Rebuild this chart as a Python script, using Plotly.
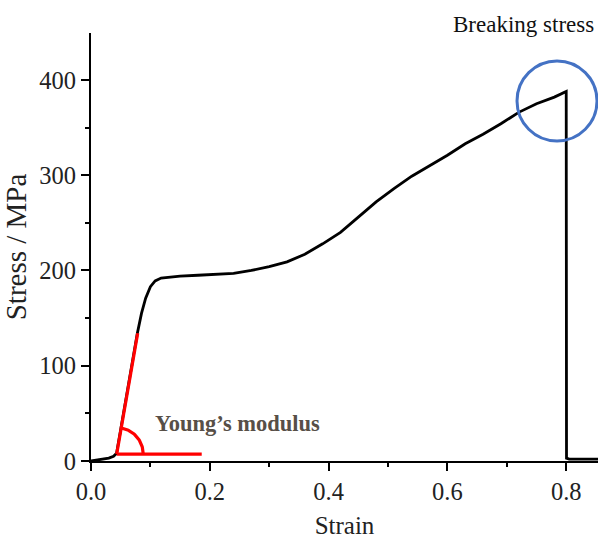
import numpy as np
import plotly.graph_objects as go

# Stress-strain curve
strain = [0.0, 0.01, 0.02, 0.03, 0.038, 0.043, 0.05, 0.06, 0.07, 0.078, 0.085, 0.092,
          0.1, 0.108, 0.118, 0.13, 0.15, 0.18, 0.21, 0.24, 0.27, 0.3, 0.33, 0.36, 0.39,
          0.42, 0.45, 0.48, 0.51, 0.54, 0.57, 0.6, 0.63, 0.66, 0.69, 0.72, 0.75, 0.78,
          0.8, 0.8005, 0.805, 0.83, 0.854]
stress = [0, 1, 2, 3, 5, 8, 33, 70, 105, 134, 155, 171,
          183, 189, 192, 193, 194, 195, 196, 197, 200, 204, 209, 217, 228,
          240, 256, 272, 286, 299, 310, 321, 333, 343, 354, 366, 375, 382,
          388, 3, 2, 2, 2]

# Young's modulus construction lines
tangent_x = [0.0433, 0.0786]
tangent_y = [7.3, 134]
base_x = [0.0433, 0.1864]
base_y = [7.3, 7.3]

# Breaking stress marker (circle)
circle_center = (0.7845, 378)

x_tickvals = [0.0, 0.2, 0.4, 0.6, 0.8]
x_ticktext = ["0.0", "0.2", "0.4", "0.6", "0.8"]
y_tickvals = [0, 100, 200, 300, 400]

XR = [0, 0.8535]
YR = [0, 449.3]
PX_PER_X = 594.0
PX_PER_Y = 0.9525

SERIF = "Liberation Serif"

fig = go.Figure()
fig.add_trace(go.Scatter(x=strain, y=stress, mode="lines",
                         line=dict(color="black", width=2.8), showlegend=False,
                         hoverinfo="skip", cliponaxis=False))
fig.add_trace(go.Scatter(x=tangent_x, y=tangent_y, mode="lines",
                         line=dict(color="#ff0000", width=3.2), showlegend=False))
fig.add_trace(go.Scatter(x=base_x, y=base_y, mode="lines",
                         line=dict(color="#ff0000", width=3.2), showlegend=False))

# arc (angle marker) of ~26 px radius
r_px = 26.5
th = np.linspace(0, np.deg2rad(80), 40)
arc_x = tangent_x[0] + r_px * np.cos(th) / PX_PER_X
arc_y = tangent_y[0] + r_px * np.sin(th) / PX_PER_Y
fig.add_trace(go.Scatter(x=arc_x, y=arc_y, mode="lines",
                         line=dict(color="#ff0000", width=3.2), showlegend=False))

rc = 40
fig.add_shape(type="circle", xref="x", yref="y",
              x0=circle_center[0] - rc / PX_PER_X, x1=circle_center[0] + rc / PX_PER_X,
              y0=circle_center[1] - rc / PX_PER_Y, y1=circle_center[1] + rc / PX_PER_Y,
              line=dict(color="#4472C4", width=3))

fig.add_annotation(x=0.1045, y=39, xref="x", yref="y", text="<b>Young’s modulus</b>",
                   showarrow=False, xanchor="left", yanchor="middle",
                   font=dict(family=SERIF, size=22.5, color="#574f47"))
fig.add_annotation(x=1.0, y=1, xref="paper", yref="paper", yshift=-6, xshift=-2,
                   text="Breaking stress", showarrow=False, xanchor="right", yanchor="bottom",
                   font=dict(family=SERIF, size=23, color="#111111"))

axis_common = dict(showgrid=False, zeroline=False, showline=True, linecolor="black",
                   linewidth=2, ticks="outside", ticklen=8, tickwidth=2, tickcolor="black",
                   tickfont=dict(family=SERIF, size=24.5, color="#222222"),
                   mirror=False)

fig.update_xaxes(range=XR, tickvals=x_tickvals, ticktext=x_ticktext,
                 minor=dict(tickvals=[0.1, 0.3, 0.5, 0.7], ticklen=4, tickwidth=2,
                            tickcolor="black", ticks="outside"),
                 title=dict(text="Strain", standoff=14,
                            font=dict(family=SERIF, size=25, color="#222222")),
                 **axis_common)
fig.update_yaxes(range=YR, tickvals=y_tickvals,
                 minor=dict(tickvals=[50, 150, 250, 350], ticklen=4, tickwidth=2,
                            tickcolor="black", ticks="outside"),
                 title=dict(text="Stress / MPa", standoff=4,
                            font=dict(family=SERIF, size=29, color="#222222")),
                 **axis_common)

fig.update_layout(width=598, height=539, margin=dict(l=91, r=0, t=33, b=78, autoexpand=False),
                  plot_bgcolor="white", paper_bgcolor="white")

fig.write_html("out.html")
